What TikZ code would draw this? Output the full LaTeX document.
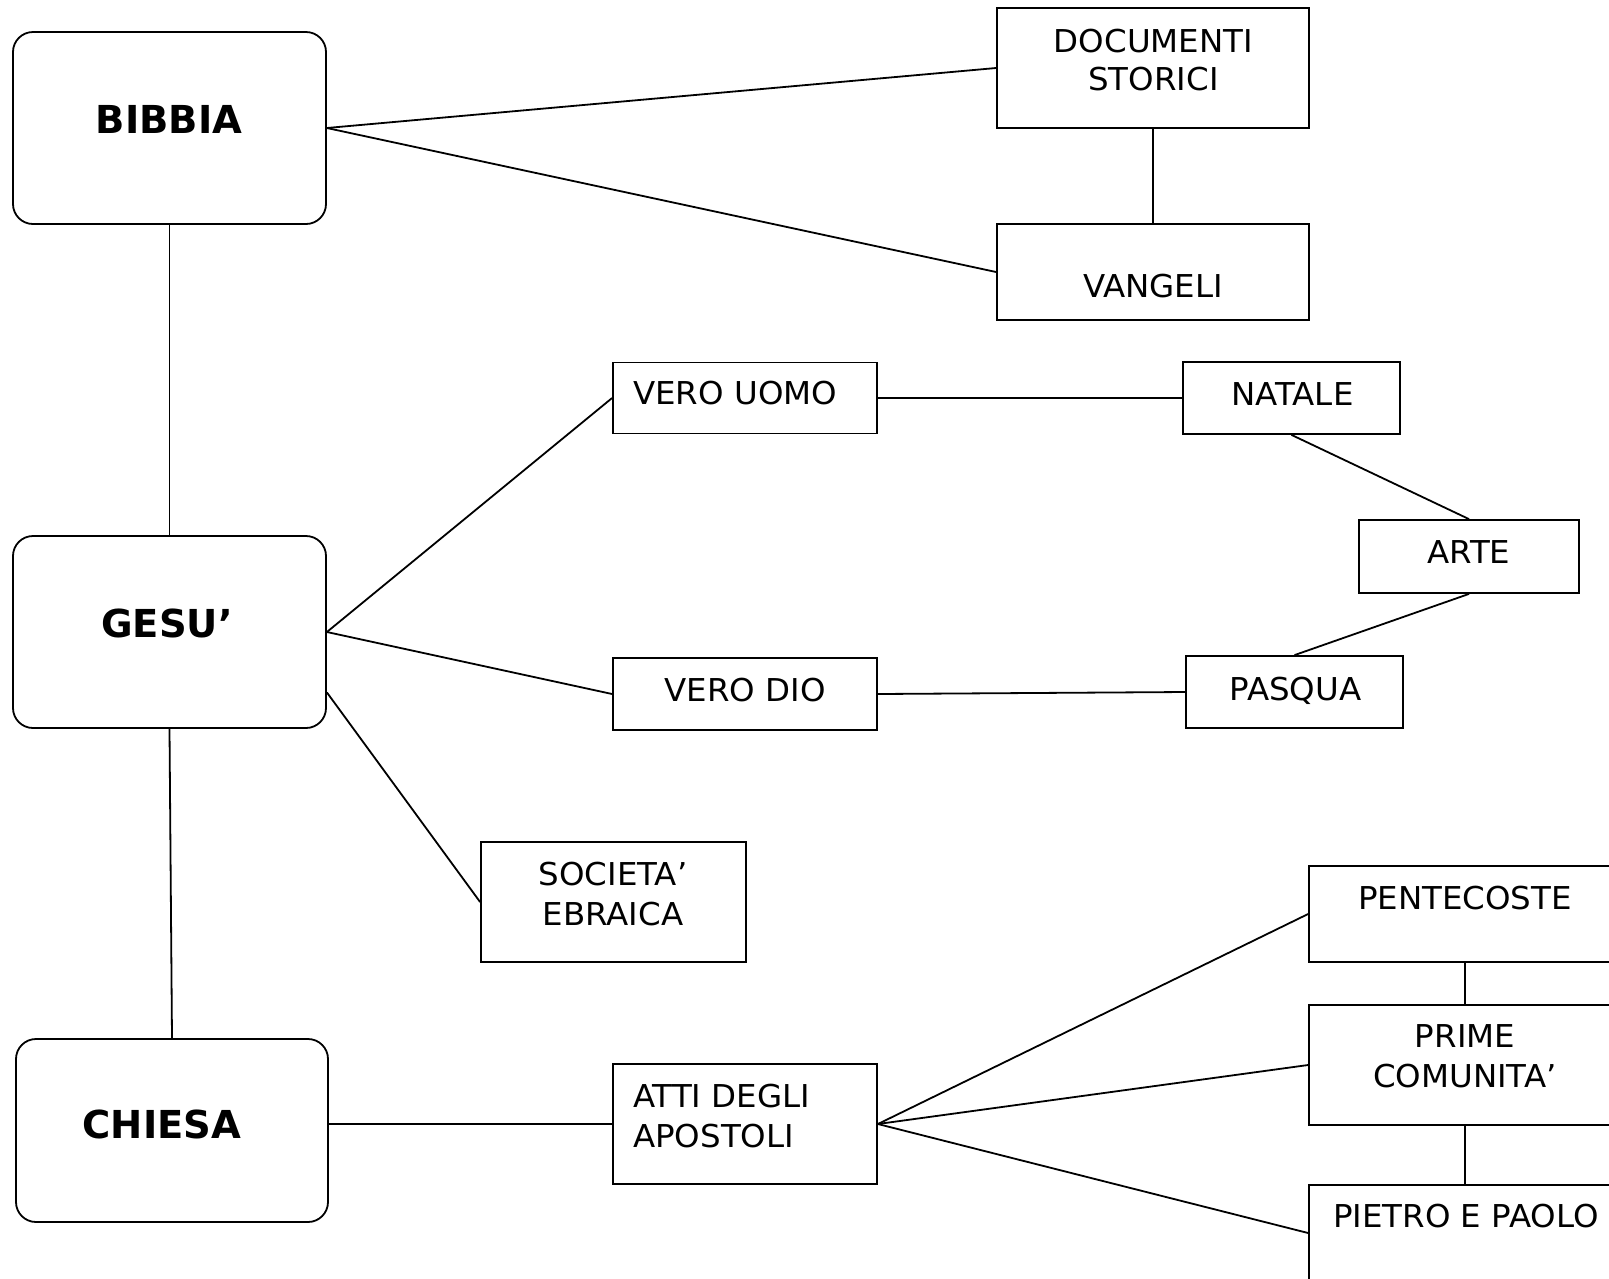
\documentclass[tikz,border=0pt]{standalone}
\usepackage{fontspec}
\setmainfont[FakeStretch=1.03]{DejaVu Sans}
\newfontfamily\boldfam{DejaVu Sans}
\begin{document}
\begin{tikzpicture}[x=1pt,y=-1pt,
  bx/.style={draw, line width=1.8pt, rectangle, inner sep=0pt},
  rbx/.style={bx, rounded corners=20pt},
  lbl/.style={inner sep=0pt, anchor=base, font=\fontsize{31.5}{38}\selectfont},
  lbll/.style={lbl, anchor=base west},
  blbl/.style={inner sep=0pt, anchor=base, font=\boldfam\fontsize{38.5}{46}\selectfont\bfseries},
  conn/.style={line width=1.8pt}]
\clip (0,0) rectangle (1609,1278);
\fill[white] (0,0) rectangle (1609,1278);
% boxes
\node[rbx, minimum width=313pt, minimum height=192pt] (bibbia) at (169.5,128) {};
\node[rbx, minimum width=313pt, minimum height=192pt] (gesu) at (169.5,632) {};
\node[rbx, minimum width=312pt, minimum height=183pt] (chiesa) at (172,1130.5) {};
\node[bx, minimum width=312pt, minimum height=120pt] (doc) at (1153,68) {};
\node[bx, minimum width=312pt, minimum height=96pt] (vang) at (1153,272) {};
\node[bx, minimum width=264pt, minimum height=71pt] (uomo) at (745,398) {};
\node[bx, minimum width=264pt, minimum height=72pt] (dio) at (745,694) {};
\node[bx, minimum width=265pt, minimum height=120pt] (soc) at (613.5,902) {};
\node[bx, minimum width=264pt, minimum height=120pt] (atti) at (745,1124) {};
\node[bx, minimum width=217pt, minimum height=72pt] (natale) at (1291.5,398) {};
\node[bx, minimum width=220pt, minimum height=73pt] (arte) at (1469,556.5) {};
\node[bx, minimum width=217pt, minimum height=72pt] (pasqua) at (1294.5,692) {};
\node[bx, minimum width=312pt, minimum height=96pt] (pent) at (1465,914) {};
\node[bx, minimum width=312pt, minimum height=120pt] (prime) at (1465,1065) {};
\node[bx, minimum width=312pt, minimum height=96pt] (pietro) at (1465,1233) {};
% texts
\node[blbl] (tbibbia) at (169,133) {BIBBIA};
\node[blbl] (tgesu) at (167,637) {GESU’};
\node[blbl] (tchiesa) at (162,1138) {CHIESA};
\node[lbl] (tdoc1) at (1153.5,52) {DOCUMENTI};
\node[lbl] (tdoc2) at (1153.5,90) {STORICI};
\node[lbl] (tvang) at (1153,297) {VANGELI};
\node[lbll] (tuomo) at (633,404) {VERO UOMO};
\node[lbl] (tdio) at (745,701) {VERO DIO};
\node[lbl] (tsoc1) at (613,885) {SOCIETA’};
\node[lbl] (tsoc2) at (613,925) {EBRAICA};
\node[lbll] (tatti1) at (633,1107) {ATTI DEGLI};
\node[lbll] (tatti2) at (633,1147) {APOSTOLI};
\node[lbl] (tnatale) at (1292.5,405) {NATALE};
\node[lbl] (tarte) at (1469,563) {ARTE};
\node[lbl] (tpasqua) at (1295.5,700) {PASQUA};
\node[lbl] (tpent) at (1465,909) {PENTECOSTE};
\node[lbl] (tprime1) at (1465,1047) {PRIME};
\node[lbl] (tprime2) at (1465,1087) {COMUNITA’};
\node[lbl] (tpietro) at (1466,1227) {PIETRO E PAOLO};
% connectors
\draw[conn] (bibbia.east) -- (doc.west);
\draw[conn] (bibbia.east) -- (vang.west);
\draw[conn] (doc.south) -- (vang.north);
\draw[conn] (bibbia.south) -- (gesu.north);
\draw[conn] (gesu.east) -- (uomo.west);
\draw[conn] (gesu.east) -- (dio.west);
\draw[conn] (gesu.-21) -- (soc.west);
\draw[conn] (gesu.south) -- (chiesa.north);
\draw[conn] (chiesa.east |- atti.west) -- (atti.west);
\draw[conn] (uomo.east) -- (natale.west);
\draw[conn] (dio.east) -- (pasqua.west);
\draw[conn] (natale.south) -- (arte.north);
\draw[conn] (arte.south) -- (pasqua.north);
\draw[conn] (atti.east) -- (pent.west);
\draw[conn] (atti.east) -- (prime.west);
\draw[conn] (atti.east) -- (pietro.west);
\draw[conn] (pent.south) -- (prime.north);
\draw[conn] (prime.south) -- (pietro.north);
\end{tikzpicture}
\end{document}
